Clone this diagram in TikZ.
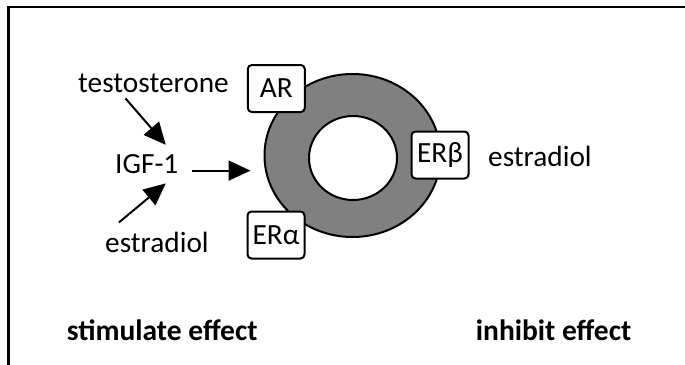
\documentclass[tikz,border=0pt]{standalone}
\usepackage{fontspec}
\setmainfont{Carlito}
\usetikzlibrary{arrows.meta,shapes.geometric}
\begin{document}
\begin{tikzpicture}[x=1pt,y=-1pt,
  lbl/.style={inner sep=0pt,anchor=base west,font=\fontsize{29.3}{35}\selectfont},
  blbl/.style={lbl,font=\fontsize{29.5}{35}\selectfont\bfseries},
  recbox/.style={draw,fill=white,line width=2pt,rounded corners=4pt,minimum width=57pt,minimum height=47pt,inner sep=0pt,font=\fontsize{29.3}{35}\selectfont},
  arr/.style={line width=2pt,-{Triangle[length=22pt,width=20pt]}}]
\useasboundingbox (0,0) rectangle (685,364);
% frame
\draw[line width=2.5pt] (700,7) -- (8.5,7) -- (8.5,380);
% ring
\node[ellipse,draw,fill=gray,line width=2pt,minimum width=176pt,minimum height=163pt,inner sep=0pt] (ring) at (352.5,155.5) {};
\node[ellipse,draw,fill=white,line width=2pt,minimum width=88pt,minimum height=84pt,inner sep=0pt] (hole) at (353,158) {};
% receptors
\node[recbox] (ar) at (276.3,88.5) {AR};
\node[recbox] (erb) at (440,155) {ERβ};
\node[recbox] (era) at (276,235) {ERα};
% labels
\node[lbl] (testo) at (78,92) {testosterone};
\node[lbl] (igf) at (115,173) {IGF-1};
\node[lbl] (estl) at (105,252) {estradiol};
\node[lbl] (estr) at (488,166.7) {estradiol};
\node[blbl] (stim) at (66.7,340) {stimulate effect};
\node[blbl] (inh) at (475.7,340) {inhibit effect};
% arrows
\draw[arr] ([xshift=-28pt,yshift=-6pt]testo.south) -- ([xshift=19pt,yshift=9pt]igf.north);
\draw[arr] ([xshift=-38pt,yshift=9pt]estl.north) -- ([xshift=19pt,yshift=-10pt]igf.south);
\draw[arr,shorten <=13.5pt,shorten >=13pt] (igf.mid east) -- (igf.mid east -| ring.west);
\end{tikzpicture}
\end{document}
